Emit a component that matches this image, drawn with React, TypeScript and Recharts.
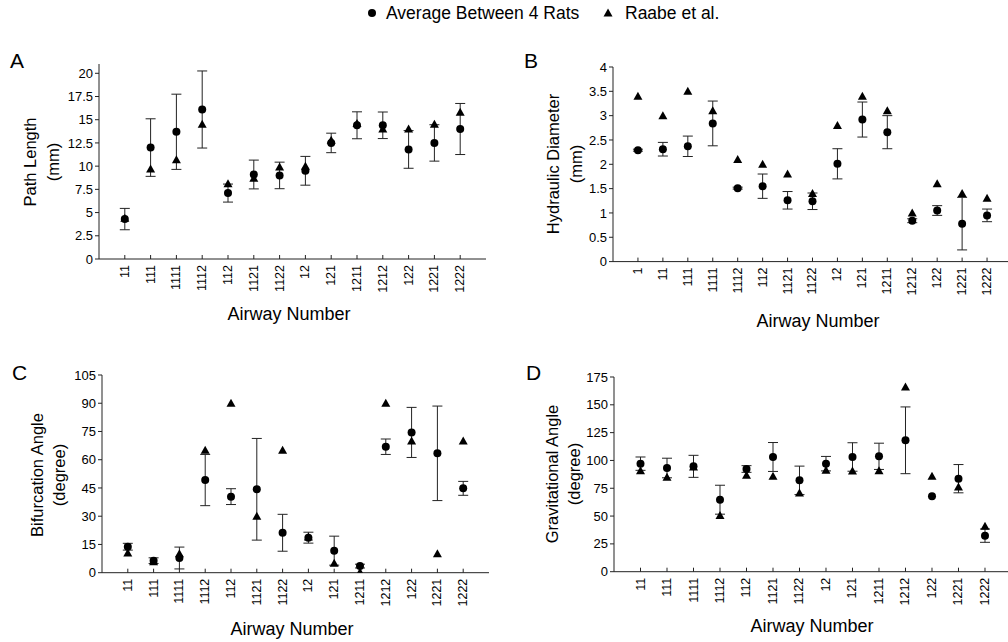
import React from "react";
import { ErrorBar, Scatter, ScatterChart, XAxis, YAxis } from "recharts";

const FONT = "Helvetica, Arial, 'Liberation Sans', sans-serif";

// airway labels
const airways = ["11", "111", "1111", "1112", "112", "1121", "1122", "12", "121", "1211", "1212", "122", "1221", "1222"];
const airwaysB = ["1", "11", "111", "1111", "1112", "112", "1121", "1122", "12", "121", "1211", "1212", "122", "1221", "1222"];

// A - path length (mm)
const pathMean = [4.3, 12.0, 13.7, 16.1, 7.1, 9.1, 9.0, 9.5, 12.5, 14.4, 14.4, 11.8, 12.5, 14.0];
const pathSd = [1.15, 3.1, 4.05, 4.15, 0.97, 1.55, 1.43, 1.55, 1.05, 1.45, 1.43, 2.03, 1.96, 2.75];
const pathRaabe = [4.4, 9.7, 10.7, 14.5, 8.1, 8.7, 9.9, 10.0, 12.8, 14.6, 14.0, 14.0, 14.5, 15.8];
const pathTicks = [0, 2.5, 5, 7.5, 10, 12.5, 15, 17.5, 20];

// B - hydraulic diameter (mm)
const diamMean = [2.29, 2.31, 2.37, 2.84, 1.51, 1.55, 1.26, 1.24, 2.01, 2.92, 2.66, 0.84, 1.05, 0.78, 0.95];
const diamSd = [0.02, 0.14, 0.21, 0.46, 0.02, 0.25, 0.18, 0.17, 0.31, 0.36, 0.34, 0.04, 0.1, 0.54, 0.13];
const diamRaabe = [3.4, 3.0, 3.5, 3.1, 2.1, 2.0, 1.8, 1.4, 2.8, 3.4, 3.1, 1.0, 1.6, 1.4, 1.3];
const diamTicks = [0, 0.5, 1, 1.5, 2, 2.5, 3, 3.5, 4];

// C - bifurcation angle (degree)
const bifMean = [13.8, 6.4, 7.8, 49.2, 40.4, 44.3, 21.2, 18.6, 11.7, 3.5, 66.9, 74.5, 63.4, 44.8];
const bifSd = [1.8, 1.5, 5.8, 13.6, 4.2, 27, 9.8, 2.9, 7.7, 1.0, 4.1, 13.3, 25.1, 3.7];
const bifRaabe = [10.5, 5.8, 10, 65, 90, 30, 65, 19, 5, 0.3, 90, 70, 10, 70];
const bifTicks = [0, 15, 30, 45, 60, 75, 90, 105];

// D - gravitational angle (degree)
const gravMean = [97.1, 93.2, 94.7, 64.7, 92.3, 103.1, 82.1, 97.1, 103.1, 103.7, 118.1, 67.7, 83.6, 32.4];
const gravSd = [6, 8.8, 9.9, 13, 3, 13, 12.8, 6.5, 12.8, 11.8, 30, 0, 12.7, 6];
const gravRaabe = [90.8, 84.8, 94, 50.6, 86.6, 85.7, 70.7, 91.1, 90.5, 90.8, 166, 85.7, 76.1, 40.8];
const gravTicks = [0, 25, 50, 75, 100, 125, 150, 175];

const Dot = (p: any) => <circle cx={p.cx} cy={p.cy} r={4} fill="#000" />;
const Tri = (p: any) => (
  <path d={`M${p.cx},${p.cy - 4.5} L${p.cx + 4.5},${p.cy + 3.5} L${p.cx - 4.5},${p.cy + 3.5} Z`} fill="#000" />
);

interface PanelProps {
  plot: { left: number; top: number; w: number; h: number };
  cats: string[];
  mean: number[];
  sd: number[];
  raabe: number[];
  yMax: number;
  yTicks: number[];
  xMax: number;
}

function Panel({ plot, cats, mean, sd, raabe, yMax, yTicks, xMax }: PanelProps) {
  const rats = cats.map((c, i) => ({ x: i + 1, y: mean[i], err: sd[i], name: c }));
  const ref = cats.map((c, i) => ({ x: i + 1, y: raabe[i], name: c }));
  const xTicks = cats.map((_, i) => i + 1);

  const tick = (p: any) => {
    const label = cats[p.payload.value - 1] ?? "";
    return (
      <text
        x={p.x}
        y={p.y}
        transform={`rotate(-90 ${p.x} ${p.y})`}
        textAnchor="end"
        dominantBaseline="central"
        fontSize={12.5}
        fontFamily={FONT}
        fill="#000"
      >
        {label}
      </text>
    );
  };

  return (
    <div style={{ position: "absolute", left: plot.left - 60, top: plot.top - 10 }}>
      <ScatterChart
        width={plot.w + 70}
        height={plot.h + 60}
        margin={{ top: 10, right: 10, bottom: 0, left: 10 }}
      >
        <XAxis
          type="number"
          dataKey="x"
          domain={[0, xMax]}
          ticks={xTicks}
          interval={0}
          allowDataOverflow
          height={50}
          tickSize={-4}
          tickMargin={10}
          stroke="#222"
          tick={tick}
        />
        <YAxis
          type="number"
          dataKey="y"
          domain={[0, yMax]}
          ticks={yTicks}
          interval={0}
          allowDataOverflow
          width={50}
          tickSize={4}
          tickMargin={2}
          stroke="#222"
          tick={{ fontSize: 13, fill: "#000", fontFamily: FONT }}
        />
        <Scatter data={rats} dataKey="y" shape={Dot} isAnimationActive={false}>
          <ErrorBar dataKey="err" direction="y" width={5} stroke="#222" strokeWidth={1} />
        </Scatter>
        <Scatter data={ref} dataKey="y" shape={Tri} isAnimationActive={false} />
      </ScatterChart>
    </div>
  );
}

const vTitle = { fontSize: 16.5, fontFamily: FONT, fill: "#000" };
const hTitle = { fontSize: 18, fontFamily: FONT, fill: "#000" };

function YTitle({ x1, x2, cy, l1, l2 }: { x1: number; x2: number; cy: number; l1: string; l2: string }) {
  return (
    <g>
      <text transform={`translate(${x1},${cy}) rotate(-90)`} textAnchor="middle" {...vTitle}>{l1}</text>
      <text transform={`translate(${x2},${cy}) rotate(-90)`} textAnchor="middle" {...vTitle}>{l2}</text>
    </g>
  );
}

export default function App() {
  return (
    <div
      style={{
        position: "absolute",
        left: 0,
        top: 0,
        width: 1008,
        height: 642,
        overflow: "hidden",
        background: "#fff",
        fontFamily: FONT,
      }}
    >
      <Panel plot={{ left: 99, top: 64, w: 387, h: 195 }} cats={airways} mean={pathMean} sd={pathSd}
        raabe={pathRaabe} yMax={21} yTicks={pathTicks} xMax={15} />
      <Panel plot={{ left: 613, top: 66.7, w: 399, h: 194.6 }} cats={airwaysB} mean={diamMean} sd={diamSd}
        raabe={diamRaabe} yMax={4} yTicks={diamTicks} xMax={16} />
      <Panel plot={{ left: 101.7, top: 375, w: 387, h: 197.7 }} cats={airways} mean={bifMean} sd={bifSd}
        raabe={bifRaabe} yMax={105} yTicks={bifTicks} xMax={15} />
      <Panel plot={{ left: 614, top: 377.3, w: 397.5, h: 194.7 }} cats={airways} mean={gravMean} sd={gravSd}
        raabe={gravRaabe} yMax={175} yTicks={gravTicks} xMax={15} />

      <svg width={1008} height={642} style={{ position: "absolute", left: 0, top: 0, pointerEvents: "none" }}>
        {/* legend */}
        <circle cx={372} cy={13} r={4} fill="#000" />
        <text x={386} y={19} fontSize={17.5} fontFamily={FONT}>Average Between 4 Rats</text>
        <path d="M608,8.5 L612.5,16.5 L603.5,16.5 Z" fill="#000" />
        <text x={625} y={19} fontSize={17.5} fontFamily={FONT}>Raabe et al.</text>

        {/* panel letters */}
        <text x={10} y={68} fontSize={21} fontFamily={FONT}>A</text>
        <text x={524} y={68} fontSize={21} fontFamily={FONT}>B</text>
        <text x={12} y={380} fontSize={21} fontFamily={FONT}>C</text>
        <text x={526} y={380} fontSize={21} fontFamily={FONT}>D</text>

        <YTitle x1={36} x2={59} cy={162} l1="Path Length" l2="(mm)" />
        <YTitle x1={559} x2={582} cy={164} l1="Hydraulic Diameter" l2="(mm)" />
        <YTitle x1={43} x2={65} cy={475} l1="Bifurcation Angle" l2="(degree)" />
        <YTitle x1={558} x2={580} cy={474} l1="Gravitational Angle" l2="(degree)" />

        <text x={289} y={320} textAnchor="middle" {...hTitle}>Airway Number</text>
        <text x={818} y={327} textAnchor="middle" {...hTitle}>Airway Number</text>
        <text x={292} y={635} textAnchor="middle" {...hTitle}>Airway Number</text>
        <text x={812} y={632} textAnchor="middle" {...hTitle}>Airway Number</text>
      </svg>
    </div>
  );
}
